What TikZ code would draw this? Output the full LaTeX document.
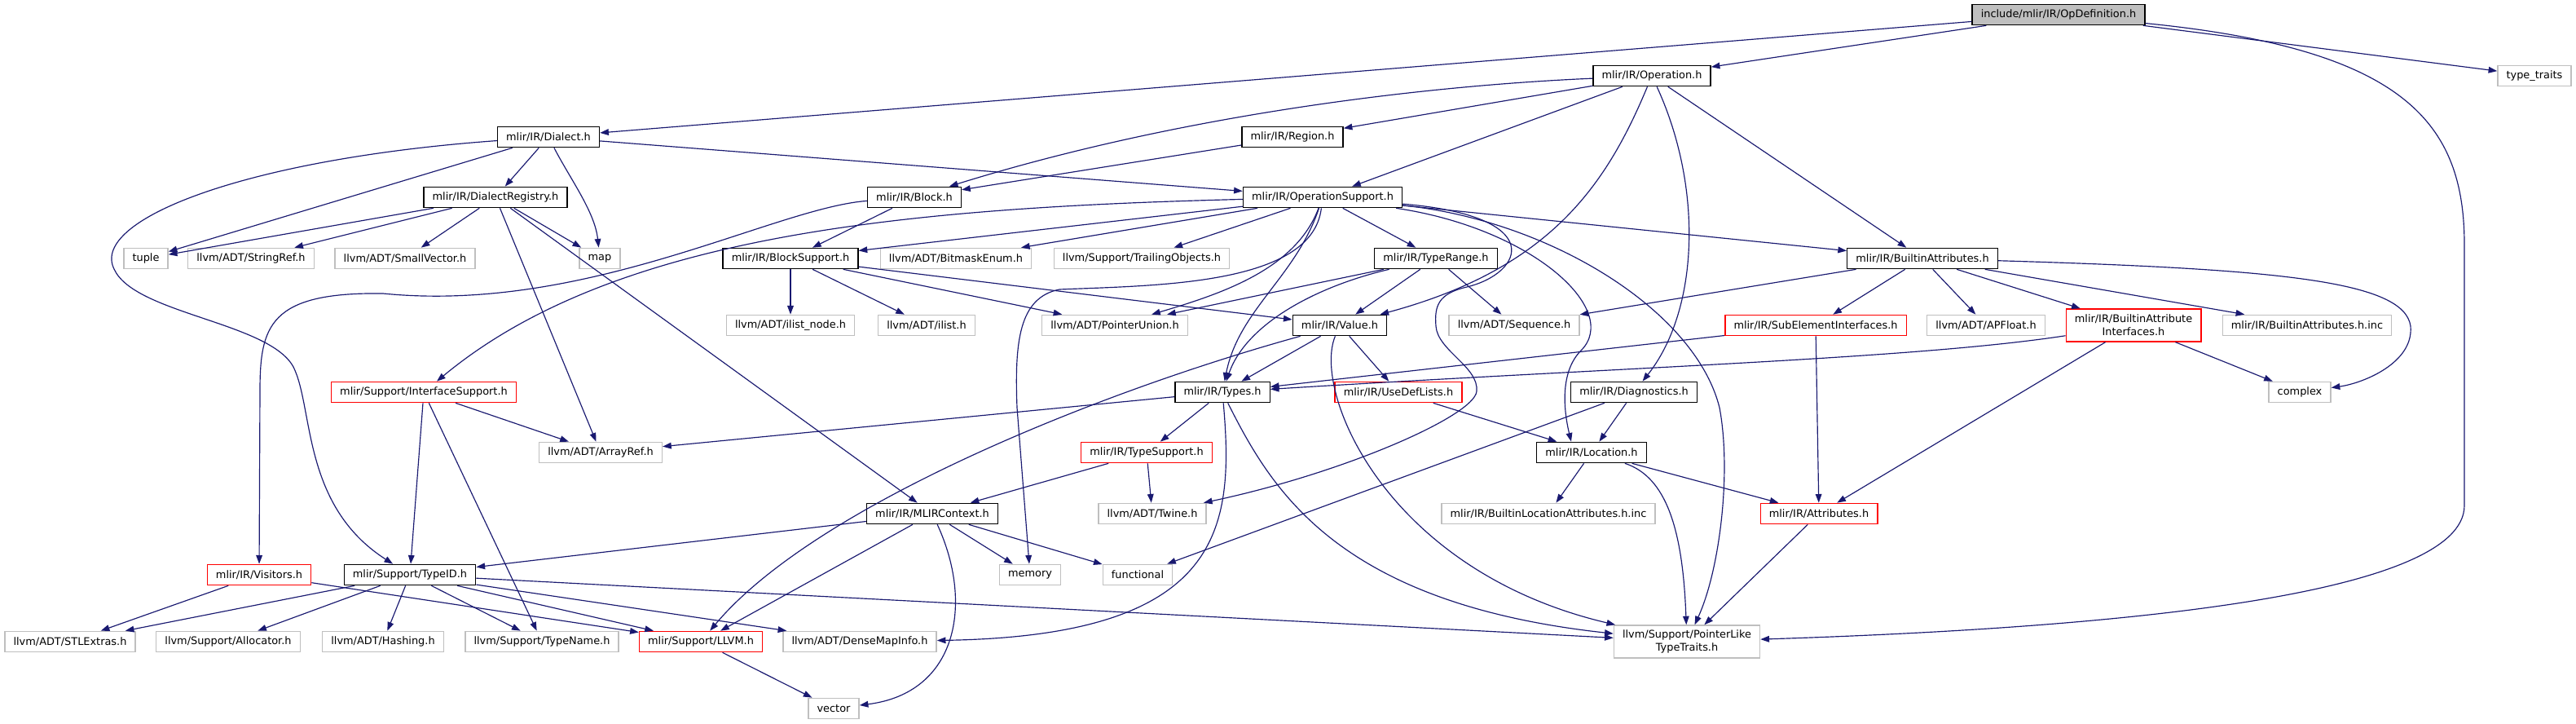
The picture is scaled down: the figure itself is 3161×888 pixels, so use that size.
\documentclass[tikz,border=0pt]{standalone}
\usepackage{fontspec}
\setmainfont{DejaVu Sans}
\usepackage{xcolor}
\usepackage{tikz}
\usetikzlibrary{arrows.meta}

\definecolor{edgeblue}{HTML}{191970}
\definecolor{extgray}{HTML}{BFBFBF}
\definecolor{rootgray}{HTML}{BFBFBF}

\begin{document}
\begin{tikzpicture}[
    x=0.3mm, y=-0.3mm,
    hdr/.style={draw=black, line width=0.4mm, fill=white, font=\fontsize{11}{13.4}\selectfont, inner xsep=3.2mm, inner ysep=0.5mm, minimum height=7.6mm, align=center},
    root/.style={hdr, fill=rootgray},
    ext/.style={hdr, draw=extgray},
    trunc/.style={hdr, draw=red},
    incl/.style={color=edgeblue, line width=0.35mm, -{Triangle[length=3.2mm, width=2.3mm]}}
]
\useasboundingbox (0,0) rectangle (3161,888);

% Row 0 / 1
\node[root] (od) at (2526,18) {include/mlir/IR/OpDefinition.h};
\node[hdr] (op) at (2027,93) {mlir/IR/Operation.h};
\node[ext] (tt) at (3110,93) {type\_traits};

% Row 2 / 3
\node[hdr] (dia) at (673,168) {mlir/IR/Dialect.h};
\node[hdr] (reg) at (1586,168) {mlir/IR/Region.h};
\node[hdr] (dreg) at (608,242) {mlir/IR/DialectRegistry.h};
\node[hdr] (blk) at (1122,242) {mlir/IR/Block.h};
\node[hdr] (os) at (1623,242) {mlir/IR/OperationSupport.h};

% Row 4
\node[ext] (tup) at (179,317) {tuple};
\node[ext] (sref) at (308,317) {llvm/ADT/StringRef.h};
\node[ext] (svec) at (497,317) {llvm/ADT/SmallVector.h};
\node[ext] (map) at (736,317) {map};
\node[hdr] (bsup) at (970,317) {mlir/IR/BlockSupport.h};
\node[ext] (bme) at (1173,317) {llvm/ADT/BitmaskEnum.h};
\node[ext] (tobj) at (1401,317) {llvm/Support/TrailingObjects.h};
\node[hdr] (trange) at (1762,317) {mlir/IR/TypeRange.h};
\node[hdr] (ba) at (2359,317) {mlir/IR/BuiltinAttributes.h};

% Row 5
\node[ext] (inode) at (970,399) {llvm/ADT/ilist\_node.h};
\node[ext] (ilist) at (1137,399) {llvm/ADT/ilist.h};
\node[ext] (punion) at (1368,399) {llvm/ADT/PointerUnion.h};
\node[hdr] (val) at (1644,399) {mlir/IR/Value.h};
\node[ext] (seq) at (1858,399) {llvm/ADT/Sequence.h};
\node[trunc] (sei) at (2228,399) {mlir/IR/SubElementInterfaces.h};
\node[ext] (apf) at (2437,399) {llvm/ADT/APFloat.h};
\node[trunc, minimum height=12mm] (bai) at (2618,399) {mlir/IR/BuiltinAttribute\\Interfaces.h};
\node[ext] (bainc) at (2831,399) {mlir/IR/BuiltinAttributes.h.inc};

% Row 6
\node[trunc] (isup) at (520,481) {mlir/Support/InterfaceSupport.h};
\node[hdr] (typ) at (1500,481) {mlir/IR/Types.h};
\node[trunc] (udl) at (1716,481) {mlir/IR/UseDefLists.h};
\node[hdr] (diag) at (2005,481) {mlir/IR/Diagnostics.h};
\node[ext] (cplx) at (2822,481) {complex};

% Row 7
\node[ext] (aref) at (737,555) {llvm/ADT/ArrayRef.h};
\node[trunc] (tsup) at (1407,555) {mlir/IR/TypeSupport.h};
\node[hdr] (loc) at (1953,555) {mlir/IR/Location.h};

% Row 8
\node[hdr] (ctx) at (1144,630) {mlir/IR/MLIRContext.h};
\node[ext] (twine) at (1414,630) {llvm/ADT/Twine.h};
\node[ext] (blai) at (1900,630) {mlir/IR/BuiltinLocationAttributes.h.inc};
\node[trunc] (attr) at (2232,630) {mlir/IR/Attributes.h};

% Row 9
\node[trunc] (vis) at (318,705) {mlir/IR/Visitors.h};
\node[hdr] (tid) at (503,705) {mlir/Support/TypeID.h};
\node[ext] (mem) at (1264,705) {memory};
\node[ext] (func) at (1396,705) {functional};

% Row 10 / 11
\node[ext] (stl) at (86,787) {llvm/ADT/STLExtras.h};
\node[ext] (alloc) at (280,787) {llvm/Support/Allocator.h};
\node[ext] (hash) at (470,787) {llvm/ADT/Hashing.h};
\node[ext] (tname) at (665,787) {llvm/Support/TypeName.h};
\node[trunc] (llvmh) at (860,787) {mlir/Support/LLVM.h};
\node[ext] (dmi) at (1055,787) {llvm/ADT/DenseMapInfo.h};
\node[ext, minimum height=12mm] (plt) at (2070,787) {llvm/Support/PointerLike\\TypeTraits.h};
\node[ext] (vec) at (1023,869) {vector};

% OpDefinition.h
\draw[incl] (od) -- (op);
\draw[incl] (od) -- (dia);
\draw[incl] (od) -- (tt);
\draw[incl] (od) .. controls (2950,60) and (3024,150) .. (3024,300) -- (3024,620) .. controls (3024,730) and (2600,770) .. (plt);

% Operation.h
\draw[incl] (op) -- (reg);
\draw[incl] (op) .. controls (1750,105) and (1450,140) .. (blk);
\draw[incl] (op) -- (os);
\draw[incl] (op) .. controls (1970,230) and (1900,330) .. (val);
\draw[incl] (op) .. controls (2090,230) and (2085,380) .. (diag);
\draw[incl] (op) -- (ba);
\draw[incl] (reg) -- (blk);

% Dialect.h and DialectRegistry.h
\draw[incl] (dia) -- (tup);
\draw[incl] (dia) -- (dreg);
\draw[incl] (dia) .. controls (700,220) and (730,260) .. (map);
\draw[incl] (dia) -- (os);
\draw[incl] (dia) .. controls (300,195) and (110,270) .. (140,330) .. controls (165,385) and (330,395) .. (360,450) .. controls (385,500) and (370,620) .. (tid);
\draw[incl] (dreg) -- (tup);
\draw[incl] (dreg) -- (sref);
\draw[incl] (dreg) -- (svec);
\draw[incl] (dreg) -- (aref);
\draw[incl] (dreg) -- (ctx);
\draw[incl] (dreg) -- (map);

% Block.h
\draw[incl] (blk) -- (bsup);
\draw[incl] (blk) .. controls (950,255) and (720,385) .. (470,360) .. controls (330,358) and (319,400) .. (319,480) -- (vis);

% OperationSupport.h
\draw[incl] (os) .. controls (1100,255) and (750,290) .. (isup);
\draw[incl] (os) -- (bsup);
\draw[incl] (os) -- (bme);
\draw[incl] (os) -- (tobj);
\draw[incl] (os) -- (trange);
\draw[incl] (os) .. controls (1590,330) and (1500,360) .. (punion);
\draw[incl] (os) .. controls (1590,340) and (1520,380) .. (typ);
\draw[incl] (os) .. controls (1610,350) and (1420,350) .. (1300,355) .. controls (1250,365) and (1245,420) .. (1248,500) -- (mem);
\draw[incl] (os) .. controls (1900,265) and (1870,335) .. (1800,352) .. controls (1765,360) and (1760,375) .. (1762,400) .. controls (1764,430) and (1815,450) .. (1812,480) .. controls (1809,510) and (1650,580) .. (twine);
\draw[incl] (os) .. controls (1880,280) and (1990,380) .. (1940,430) .. controls (1915,455) and (1918,500) .. ([xshift=-7.5mm]loc.north);
\draw[incl] (os) .. controls (1900,270) and (2080,380) .. (2110,500) .. controls (2125,580) and (2110,700) .. (plt);
\draw[incl] (os) -- (ba);

% BlockSupport.h and TypeRange.h
\draw[incl] (bsup) -- (inode);
\draw[incl] (bsup) -- (ilist);
\draw[incl] (bsup) -- (punion);
\draw[incl] (bsup) -- (val);
\draw[incl] (trange) -- (punion);
\draw[incl] (trange) -- (val);
\draw[incl] (trange) -- (seq);
\draw[incl] (trange) .. controls (1620,350) and (1530,395) .. (typ);

% Value.h
\draw[incl] (val) -- (typ);
\draw[incl] (val) -- (udl);
\draw[incl] (val) .. controls (1350,480) and (1000,620) .. (llvmh);
\draw[incl] (val) .. controls (1610,480) and (1700,700) .. (plt);
\draw[incl] (udl) -- (loc);

% Diagnostics.h and Location.h
\draw[incl] (diag) -- (loc);
\draw[incl] (diag) -- (func);
\draw[incl] (loc) -- (blai);
\draw[incl] (loc) .. controls (2045,585) and (2065,650) .. (plt);
\draw[incl] (loc) -- (attr);
\draw[incl] (attr) -- (plt);

% Types.h and TypeSupport.h
\draw[incl] (typ) -- (aref);
\draw[incl] (typ) -- (tsup);
\draw[incl] (typ) .. controls (1515,650) and (1500,780) .. (dmi);
\draw[incl] (typ) .. controls (1560,600) and (1640,740) .. (plt);
\draw[incl] (tsup) -- (ctx);
\draw[incl] (tsup) -- (twine);

% MLIRContext.h
\draw[incl] (ctx) -- (tid);
\draw[incl] (ctx) -- (llvmh);
\draw[incl] (ctx) .. controls (1195,740) and (1175,850) .. (vec);
\draw[incl] (ctx) -- (mem);
\draw[incl] (ctx) -- (func);

% TypeID.h, Visitors.h, InterfaceSupport.h
\draw[incl] (tid) -- (stl);
\draw[incl] (tid) -- (alloc);
\draw[incl] (tid) -- (hash);
\draw[incl] (tid) -- (tname);
\draw[incl] (tid) -- (llvmh);
\draw[incl] (tid) -- (dmi);
\draw[incl] (tid) -- (plt);
\draw[incl] (vis) -- (stl);
\draw[incl] (vis) -- (llvmh);
\draw[incl] (isup) -- (tid);
\draw[incl] (isup) -- (tname);
\draw[incl] (isup) -- (aref);
\draw[incl] (llvmh) -- (vec);

% BuiltinAttributes.h
\draw[incl] (ba) -- (seq);
\draw[incl] (ba) -- (sei);
\draw[incl] (ba) -- (apf);
\draw[incl] (ba) -- (bai);
\draw[incl] (ba) -- (bainc);
\draw[incl] (ba) .. controls (2800,330) and (2950,345) .. (2958,400) .. controls (2962,445) and (2900,470) .. (cplx);
\draw[incl] (sei) -- (typ);
\draw[incl] (sei) -- (attr);
\draw[incl] (bai) .. controls (2350,440) and (2000,450) .. (typ);
\draw[incl] (bai) -- (attr);
\draw[incl] (bai) -- (cplx);

\end{tikzpicture}
\end{document}
